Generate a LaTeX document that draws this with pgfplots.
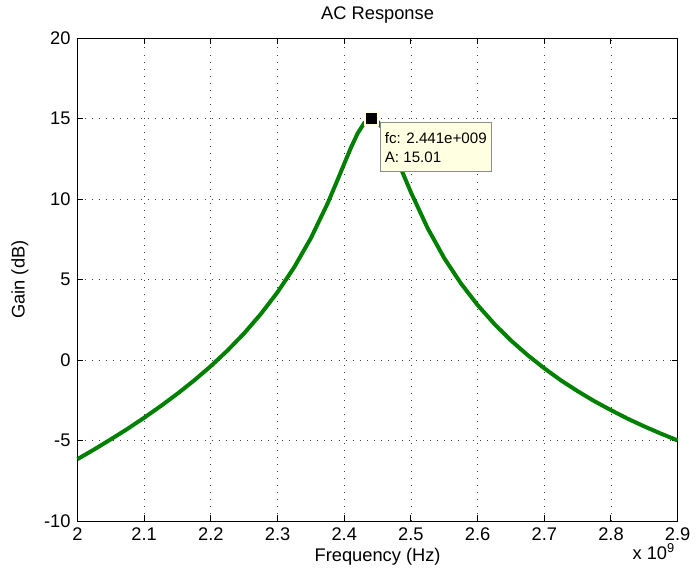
\documentclass[border=0pt]{standalone}
\usepackage{pgfplots}
\pgfplotsset{compat=1.18}
\usepackage{fontspec}
\setmainfont{Liberation Sans}
\definecolor{mgreen}{RGB}{0,128,0}
\definecolor{tipbg}{RGB}{255,255,225}
\begin{document}
\begin{tikzpicture}
\begin{axis}[
  at={(0,0)}, anchor=south west,
  scale only axis, width=302pt, height=243pt,
  xmin=2, xmax=2.9, ymin=-10, ymax=20,
  xtick={2,2.1,...,2.9},
  xticklabels={2,2.1,2.2,2.3,2.4,2.5,2.6,2.7,2.8,2.9},
  ytick={-10,-5,0,5,10,15,20},
  /pgf/number format/assume math mode=true,
  tick label style={font=\fontsize{9.2}{11}\selectfont},
  label style={font=\fontsize{9.2}{11}\selectfont},
  title style={font=\fontsize{9.2}{11}\selectfont, yshift=-2pt},
  title={AC Response},
  xlabel={Frequency (Hz)},
  ylabel={Gain (dB)},
  tick align=inside,
  major tick length=3pt,
  axis line style={line width=0.5pt},
  every tick/.style={black, line width=0.5pt},
  grid=major,
  major grid style={black!75, line width=0.4pt, dash pattern=on 0.45pt off 3.1pt},
  xlabel style={yshift=3pt},
  ylabel style={yshift=1pt},
  clip=false,
]
\addplot[mgreen, line width=2pt] coordinates {
(2.000,-6.15) (2.025,-5.55) (2.050,-4.92) (2.075,-4.27) (2.100,-3.58)
(2.125,-2.85) (2.150,-2.08) (2.175,-1.26) (2.200,-0.37) (2.225,0.60)
(2.250,1.67) (2.275,2.87) (2.300,4.22) (2.325,5.77) (2.350,7.58)
(2.375,9.73) (2.390,11.20) (2.400,12.20) (2.410,13.19) (2.420,14.08)
(2.430,14.73) (2.441,15.01) (2.450,14.82) (2.460,14.24) (2.470,13.38)
(2.480,12.40) (2.490,11.40) (2.500,10.42) (2.525,8.20) (2.550,6.33)
(2.575,4.76) (2.600,3.42) (2.625,2.25) (2.650,1.22) (2.675,0.31)
(2.700,-0.51) (2.725,-1.26) (2.750,-1.93) (2.775,-2.55) (2.800,-3.11)
(2.825,-3.64) (2.850,-4.12) (2.875,-4.57) (2.900,-4.99)
};
\addplot[only marks, mark=square*, mark size=3.6pt, mark options={draw=tipbg, fill=tipbg, line width=0pt}] coordinates {(2.441,15.01)};
\addplot[only marks, mark=square*, mark size=2.6pt, mark options={draw=black, fill=black}] coordinates {(2.441,15.01)};
\node[draw=black!45, line width=0.4pt, fill=tipbg, anchor=north west, align=left,
  inner xsep=2.5pt, inner ysep=2pt, minimum width=55.5pt, minimum height=24.5pt,
  font=\fontsize{7.6}{9.5}\selectfont]
  at ([xshift=4pt,yshift=-2pt]axis cs:2.441,15.01) {fc: 2.441e+009\\A: 15.01};
\node[anchor=north east, font=\fontsize{9.2}{11}\selectfont, inner sep=0pt]
  at ([xshift=-1pt,yshift=-11pt]rel axis cs:1,0) {x 10\textsuperscript{9}};
\end{axis}
\useasboundingbox (-39pt,-28pt) rectangle (309.5pt,259pt);
\end{tikzpicture}
\end{document}
